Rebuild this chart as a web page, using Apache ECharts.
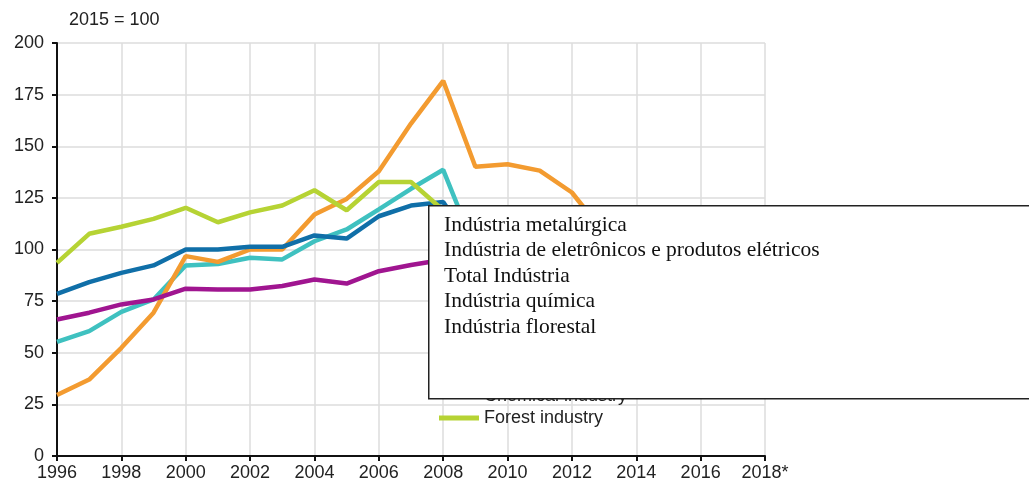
<!DOCTYPE html>
<html>
<head>
<meta charset="utf-8">
<script src="https://cdn.jsdelivr.net/npm/echarts@6/dist/echarts.min.js"></script>
<style>
  html, body { margin: 0; padding: 0; background: #fff; }
  #chart { width: 1029px; height: 487px; }
</style>
</head>
<body>
<div id="chart"></div>
<script>
// years on the x axis
var years = [1996, 1997, 1998, 1999, 2000, 2001, 2002, 2003, 2004, 2005, 2006, 2007,
  2008, 2009, 2010, 2011, 2012, 2013, 2014, 2015, 2016, 2017, 2018];

// index values, 2015 = 100 (values after ~2008 are mostly behind the box, estimated)
var metal = [55.3, 60.5, 69.8, 75.8, 92.3, 93, 96, 95.2, 104, 109.7, 119.4, 129.4,
  138.6, 100, 98, 105, 103, 98, 97, 100, 103, 108, 112];
var electronics = [29.5, 37, 52.4, 69.4, 96.8, 94, 100, 100, 116.9, 124.5, 137.9, 161,
  181.7, 140.1, 141.3, 138.2, 127.6, 108, 100, 100, 104, 109, 114];
var total = [78.5, 84.2, 88.7, 92.3, 100, 100, 101.3, 101.3, 106.8, 105.3, 116.1, 121.3,
  123, 100, 103, 105, 102, 99, 98, 100, 102, 106, 109];
var chemical = [66.1, 69.4, 73.4, 75.8, 81, 80.6, 80.6, 82.3, 85.5, 83.5, 89.5, 92.5,
  95, 90, 97, 96, 95, 98, 97, 100, 103, 106, 108];
var forest = [93.5, 107.6, 111, 114.8, 120.2, 113.2, 118, 121.3, 128.7, 119, 132.7, 132.7,
  119, 100, 107, 103, 101, 102, 100, 100, 103, 106, 107];

var seriesNames = ['Metal industry', 'Electrical and electronics industry', 'Total industry',
  'Chemical industry', 'Forest industry'];
var seriesColors = ['#3fc1c0', '#f39b30', '#106fa8', '#a01590', '#b6d334'];
var seriesValues = [metal, electronics, total, chemical, forest];

// translated legend text shown in the overlay box
var boxLines = ['Indústria metalúrgica', 'Indústria de eletrônicos e produtos elétricos',
  'Total Indústria', 'Indústria química', 'Indústria florestal'];

var chart = echarts.init(document.getElementById('chart'), null, { renderer: 'canvas' });

function pairs(vals) {
  return years.map(function (y, i) { return [y, vals[i]]; });
}

var series = seriesNames.map(function (name, i) {
  return {
    name: name,
    type: 'line',
    data: pairs(seriesValues[i]),
    symbol: 'none',
    lineStyle: { width: 4.5, color: seriesColors[i] },
    itemStyle: { color: seriesColors[i] },
    z: 2
  };
});

var boxText = boxLines.map(function (t, i) {
  return {
    type: 'text',
    left: 444,
    top: 214 + i * 25.5,
    z: 101,
    style: {
      text: t,
      fill: '#111',
      font: '21.5px "Liberation Serif", "Times New Roman", serif'
    }
  };
});

var option = {
  animation: false,
  backgroundColor: '#fff',
  textStyle: { fontFamily: 'Liberation Sans, Arial, sans-serif' },
  title: {
    text: '2015 = 100',
    left: 64,
    top: 6,
    textStyle: { fontSize: 18, fontWeight: 'normal', color: '#222' }
  },
  grid: { left: 57, right: 264, top: 43, bottom: 31 },
  legend: {
    orient: 'vertical',
    left: 439,
    top: 319,
    padding: 0,
    icon: 'rect',
    itemWidth: 40,
    itemHeight: 5,
    itemGap: 0,
    data: seriesNames,
    textStyle: { fontSize: 18, lineHeight: 22, color: '#222' }
  },
  xAxis: {
    type: 'value',
    min: 1996,
    max: 2018,
    interval: 2,
    axisLine: { lineStyle: { color: '#111', width: 2 } },
    axisTick: { show: true, length: 5, lineStyle: { color: '#111', width: 2 } },
    axisLabel: {
      fontSize: 18,
      color: '#222',
      margin: 8,
      formatter: function (v) { return v === 2018 ? '2018*' : String(v); }
    },
    splitLine: { show: true, lineStyle: { color: '#dcdcdc', width: 1.5 } }
  },
  yAxis: {
    type: 'value',
    min: 0,
    max: 200,
    interval: 25,
    axisLine: { show: true, lineStyle: { color: '#111', width: 2 } },
    axisTick: { show: true, length: 5, lineStyle: { color: '#111', width: 2 } },
    axisLabel: { fontSize: 18, color: '#222', margin: 13 },
    splitLine: { show: true, lineStyle: { color: '#dcdcdc', width: 1.5 } }
  },
  series: series,
  graphic: [
    {
      type: 'rect',
      left: 428,
      top: 205,
      z: 100,
      shape: { width: 620, height: 193 },
      style: { fill: '#fff', stroke: '#222', lineWidth: 1.5 }
    }
  ].concat(boxText)
};

chart.setOption(option);
window.addEventListener('resize', chart.resize);
</script>
</body>
</html>
